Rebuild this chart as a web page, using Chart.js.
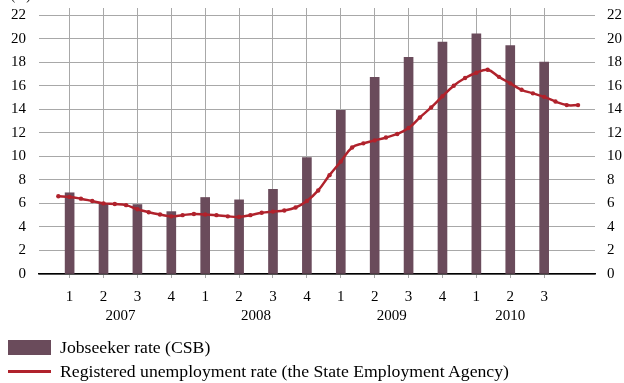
<!DOCTYPE html>
<html>
<head>
<meta charset="utf-8">
<script src="https://cdn.jsdelivr.net/npm/chart.js@4.4.1/dist/chart.umd.min.js"></script>
<style>
  html, body { margin: 0; padding: 0; background: #fff; overflow: hidden; }
  #wrap { position: relative; width: 624px; height: 383px; }
  #chart { position: absolute; left: 0; top: 0; }
  .leg { position: absolute; left: 8px; font-family: "Liberation Serif", "Times New Roman", serif; font-size: 17.7px; color: #000; white-space: nowrap; }
  .leg .sw { position: absolute; left: 0; }
  .leg span.t { position: absolute; left: 52px; top: 0; line-height: 20px; }
</style>
</head>
<body>
<div id="wrap">
  <canvas id="chart" width="624" height="383"></canvas>
  <div class="leg" style="top:337px;height:20px;">
    <div class="sw" style="top:3px;width:43px;height:15px;background:#6A4B5B;"></div>
    <span class="t">Jobseeker rate (CSB)</span>
  </div>
  <div class="leg" style="top:361px;height:20px;">
    <div class="sw" style="top:9px;width:43px;height:3px;background:#B0222C;"></div>
    <span class="t">Registered unemployment rate (the State Employment Agency)</span>
  </div>
</div>
<script>
// Quarterly categories, 2007 Q1 – 2010 Q3
const quarterLabels = ['1','2','3','4','1','2','3','4','1','2','3','4','1','2','3'];
const quarterYears  = ['2007','2007','2007','2007','2008','2008','2008','2008',
                       '2009','2009','2009','2009','2010','2010','2010'];

// Jobseeker rate (CSB), quarterly, %
const jobseekerRate = [6.9, 6.0, 5.9, 5.3, 6.5, 6.3, 7.2, 9.9,
                       13.9, 16.7, 18.4, 19.7, 20.4, 19.4, 18.0];

// Registered unemployment rate, monthly Jan 2007 – Nov 2010, %
const registeredRate = [
  6.6, 6.55, 6.4, 6.2, 6.0, 5.95, 5.85, 5.5, 5.25, 5.05, 4.9, 5.0,
  5.1, 5.05, 5.0, 4.9, 4.85, 5.0, 5.2, 5.3, 5.4, 5.65, 6.2, 7.1,
  8.4, 9.55, 10.75, 11.1, 11.35, 11.6, 11.9, 12.4, 13.3, 14.15, 15.1, 16.0,
  16.65, 17.1, 17.35, 16.75, 16.2, 15.65, 15.35, 15.05, 14.65, 14.35, 14.35
];

// Value axis ticks
const yTicks = [0, 2, 4, 6, 8, 10, 12, 14, 16, 18, 20, 22];

// Both series share a month axis: month 0 = January 2007,
// each quarter's bar sits on its middle month.
const quarterMonth = quarterLabels.map((_, i) => 3 * i + 1);
const barPoints  = jobseekerRate.map((v, i) => ({ x: quarterMonth[i], y: v }));
const linePoints = registeredRate.map((v, i) => ({ x: i, y: v }));

const BAR = '#6A4B5B';
const LINE = '#B0222C';
const GRID = '#A8A8A8';
const FONT = { family: "'Liberation Serif', 'Times New Roman', serif", size: 15, lineHeight: 1 };

// fixed axis sizes; no extra label overhang padding
const fixWidth = w => s => { s.width = w; s.paddingTop = 0; s.paddingBottom = 0; };

// Year captions centred under their quarters
const yearLabels = {
  id: 'yearLabels',
  afterDraw(chart) {
    const { ctx, chartArea, scales } = chart;
    const groups = {};
    quarterYears.forEach((y, i) => { (groups[y] = groups[y] || []).push(quarterMonth[i]); });
    ctx.save();
    ctx.font = "15px 'Liberation Serif', 'Times New Roman', serif";
    ctx.fillStyle = '#000';
    ctx.textAlign = 'center';
    ctx.textBaseline = 'middle';
    Object.keys(groups).forEach(y => {
      const ms = groups[y];
      const mid = ms.reduce((a, b) => a + b, 0) / ms.length;
      ctx.fillText(y, scales.x.getPixelForValue(mid), chartArea.bottom + 42);
    });
    // unit caption in the top-left corner
    ctx.textAlign = 'left';
    ctx.textBaseline = 'alphabetic';
    ctx.font = "13px 'Liberation Serif', 'Times New Roman', serif";
    ctx.fillText('(%)', 11, 0);
    ctx.restore();
  }
};

new Chart(document.getElementById('chart'), {
  data: {
    datasets: [
      {
        type: 'line',
        label: 'Registered unemployment rate (the State Employment Agency)',
        data: linePoints,
        borderColor: LINE,
        backgroundColor: LINE,
        borderWidth: 2.5,
        tension: 0.4,
        pointRadius: 2.2,
        pointBorderWidth: 0,
        pointBackgroundColor: LINE,
        yAxisID: 'y',
        order: 0
      },
      {
        type: 'bar',
        label: 'Jobseeker rate (CSB)',
        data: barPoints,
        backgroundColor: BAR,
        borderWidth: 0,
        barThickness: 9,
        yAxisID: 'y',
        order: 1
      }
    ]
  },
  options: {
    responsive: false,
    animation: false,
    events: [],
    layout: { padding: { left: 0, right: 0, top: 8, bottom: 59 } },
    plugins: { legend: { display: false }, tooltip: { enabled: false } },
    scales: {
      x: {
        type: 'linear',
        position: 'bottom',
        offset: false,
        min: -1.71,
        max: 47.5,
        afterBuildTicks: s => { s.ticks = quarterMonth.map(v => ({ value: v })); },
        afterFit: s => { s.height = 50; s.paddingLeft = 0; s.paddingRight = 0; },
        grid: { offset: false, color: GRID, lineWidth: 1, drawTicks: true, tickLength: 4, tickColor: GRID },
        border: { display: true, color: '#000', width: 1.5 },
        ticks: {
          autoSkip: false,
          maxRotation: 0,
          padding: 12,
          color: '#000',
          font: FONT,
          callback: v => quarterLabels[quarterMonth.indexOf(v)]
        }
      },
      y: {
        position: 'left',
        min: 0,
        max: 22.6,
        afterBuildTicks: s => { s.ticks = yTicks.map(v => ({ value: v })); },
        afterFit: fixWidth(39),
        grid: { color: GRID, lineWidth: 1, drawTicks: false },
        border: { display: false },
        ticks: { padding: 13, color: '#000', font: FONT }
      },
      yRight: {
        position: 'right',
        min: 0,
        max: 22.6,
        afterBuildTicks: s => { s.ticks = yTicks.map(v => ({ value: v })); },
        afterFit: fixWidth(29),
        grid: { display: false, drawTicks: false },
        border: { display: false },
        ticks: { padding: 12, color: '#000', font: FONT }
      }
    }
  },
  plugins: [yearLabels]
});
</script>
</body>
</html>
